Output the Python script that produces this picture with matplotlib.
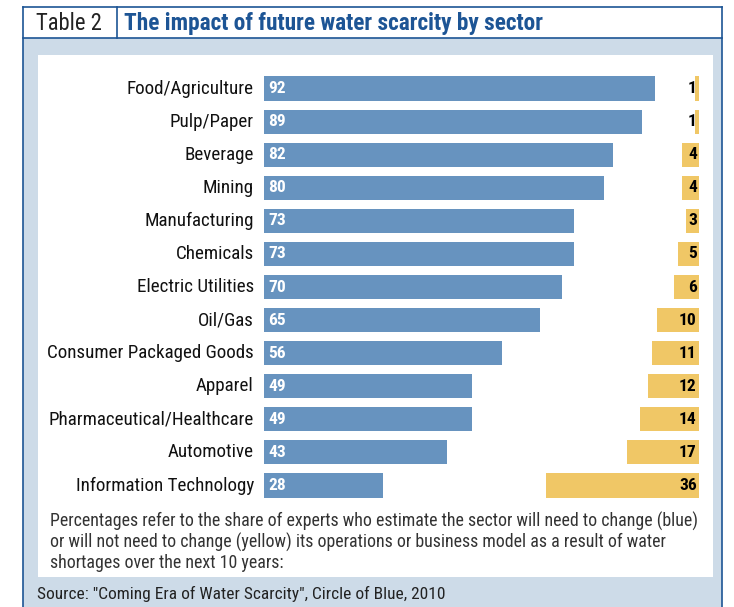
import matplotlib.pyplot as plt
from matplotlib.patches import Rectangle
from matplotlib.lines import Line2D

sectors = ['Food/Agriculture', 'Pulp/Paper', 'Beverage', 'Mining', 'Manufacturing',
           'Chemicals', 'Electric Utilities', 'Oil/Gas', 'Consumer Packaged Goods',
           'Apparel', 'Pharmaceutical/Healthcare', 'Automotive', 'Information Technology']
need_change = [92, 89, 82, 80, 73, 73, 70, 65, 56, 49, 49, 43, 28]
no_change = [1, 1, 4, 4, 3, 5, 6, 10, 11, 12, 14, 17, 36]

W, H = 734, 607
blue = '#6793bf'
yellow = '#f0c766'
navy = '#1d5595'
panel = '#cddbe8'
narrow = ['Roboto Condensed', 'PT Sans Narrow', 'Archivo Narrow', 'Liberation Sans Narrow', 'DejaVu Sans']

fig = plt.figure(figsize=(W / 100, H / 100), dpi=100)

def px(x, y):
    return x / W, 1 - y / H

def rect(x0, y0, x1, y1, **kw):
    fig.patches.append(Rectangle(px(x0, y1), (x1 - x0) / W, (y1 - y0) / H,
                                 transform=fig.transFigure, zorder=-5, **kw))

def line(xs, ys):
    fig.lines.append(Line2D([x / W for x in xs], [1 - y / H for y in ys],
                            transform=fig.transFigure, color=navy, lw=1.2))

# frame
rect(23, 38, 722, 607, facecolor=panel, edgecolor='none')
rect(38, 55, 713, 577, facecolor='white', edgecolor='none')
line([23, 23], [7, 607])
line([722, 722], [7, 607])
line([23, 722], [7, 7])
line([23, 722], [38, 38])
line([117, 117], [7, 38])

fig.text(*px(36, 23.5), 'Table 2', fontsize=16.3, family=narrow, va='center', color='#222222')
fig.text(*px(124, 23.5), 'The impact of future water scarcity by sector', fontsize=16.8,
         fontweight='bold', family=narrow, va='center', color=navy)

# bars
scale = 4.25
ax_l, ax_r, ax_t, ax_b = 264, 699, 72, 502
xmax = (ax_r - ax_l) / scale
pos = [ax_l / W, 1 - ax_b / H, (ax_r - ax_l) / W, (ax_b - ax_t) / H]
ax = fig.add_axes(pos)
ax2 = fig.add_axes(pos)
for a in (ax, ax2):
    a.axis('off')
    a.set_ylim(len(sectors) - 0.5, -0.5)
ax.set_xlim(0, xmax)
ax2.set_xlim(xmax, 0)

ypos = list(range(len(sectors)))
ax.barh(ypos, need_change, height=0.73, color=blue)
ax2.barh(ypos, no_change, height=0.73, color=yellow)
for y, v, n, s in zip(ypos, need_change, no_change, sectors):
    ax.text(1, y, str(v), color='white', fontweight='bold', fontsize=12.5,
            family=narrow, va='center', ha='left')
    ax2.text(0.5, y, str(n), color='black', fontweight='bold', fontsize=12.5,
             family=narrow, va='center', ha='right')
    ax.text(-2.4, y, s, color='#111111', fontsize=13.7, family=narrow,
            va='center', ha='right')

note = ('Percentages refer to the share of experts who estimate the sector will need to change (blue)\n'
        'or will not need to change (yellow) its operations or business model as a result of water\n'
        'shortages over the next 10 years:')
fig.text(*px(50, 542), note, fontsize=12.9, family=narrow, va='center', color='#333333',
         linespacing=1.12)
fig.text(*px(37, 594), 'Source: "Coming Era of Water Scarcity", Circle of Blue, 2010',
         fontsize=12.5, family=narrow, va='center', color='#222222')

fig.savefig('out.png', dpi=100)
